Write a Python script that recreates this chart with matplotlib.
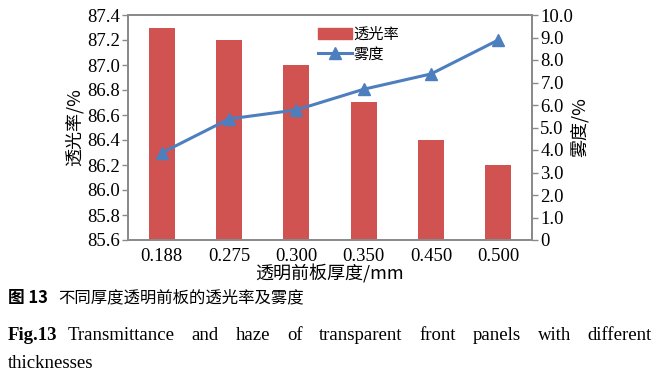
import matplotlib
matplotlib.use("Agg")
import matplotlib.pyplot as plt
from matplotlib.lines import Line2D
from matplotlib.patches import Patch

thickness = ["0.188", "0.275", "0.300", "0.350", "0.450", "0.500"]
transmittance = [87.3, 87.2, 87.0, 86.7, 86.4, 86.2]
haze = [3.87, 5.38, 5.78, 6.70, 7.38, 8.89]

left_ticks = [85.6, 85.8, 86.0, 86.2, 86.4, 86.6, 86.8, 87.0, 87.2, 87.4]
right_ticks = [0, 1, 2, 3, 4, 5, 6, 7, 8, 9, 10]
right_labels = ["0"] + [f"{v:.1f}" for v in right_ticks[1:]]

SERIF = ["Liberation Serif", "DejaVu Serif"]
CJK = ["Noto Sans CJK SC", "Liberation Serif", "DejaVu Sans"]
bar_color = "#d05251"
line_color = "#4d7fbf"
spine_color = "#8a8a8a"

W, H = 666, 387
fig = plt.figure(figsize=(W / 100, H / 100), dpi=100)
ax = fig.add_axes([128 / W, 1 - 240 / H, (532 - 128) / W, (240 - 15) / H])

x = list(range(len(thickness)))
ax.bar(x, [t - 85.6 for t in transmittance], bottom=85.6, width=0.39,
       color=bar_color, zorder=2)
ax.set_ylim(85.6, 87.4)
ax.set_xlim(-0.5, len(thickness) - 0.5)
ax.set_yticks(left_ticks)
ax.set_yticklabels([f"{v:.1f}" for v in left_ticks], fontfamily=SERIF, fontsize=13.5)
ax.set_xticks(x)
ax.set_xticklabels(thickness, fontfamily=SERIF, fontsize=13.5)
ax.tick_params(axis="x", length=0, pad=6)
ax.tick_params(axis="y", length=4, width=1, color=spine_color, pad=2)

ax2 = ax.twinx()
ax2.plot(x, haze, color=line_color, lw=2.2, marker="^", markersize=8, zorder=3)
ax2.set_ylim(0, 10)
ax2.set_yticks(right_ticks)
ax2.set_yticklabels(right_labels, fontfamily=SERIF, fontsize=13.5)
ax2.tick_params(axis="y", length=4, width=1, color=spine_color, pad=2)

for a in (ax, ax2):
    for s in a.spines.values():
        s.set_color(spine_color)
        s.set_linewidth(1.3)

ax.set_ylabel("透光率/%", fontfamily=CJK, fontsize=13, labelpad=2)
ax2.set_ylabel("雾度/%", fontfamily=CJK, fontsize=13, labelpad=-2)
ax.set_xlabel("透明前板厚度/mm", fontfamily=CJK, fontsize=13, labelpad=-1)

handles = [Patch(color=bar_color), Line2D([], [], color=line_color, lw=2.2,
                                          marker="^", markersize=8)]
leg = ax.legend(handles, ["透光率", "雾度"], loc="upper left",
                bbox_to_anchor=(312 / W, 1 - 20 / H), bbox_transform=fig.transFigure,
                frameon=False, prop={"family": CJK, "size": 11},
                handlelength=2.2, handletextpad=0.1, labelspacing=0.15,
                borderaxespad=0)

# caption
fig.text(8 / W, 1 - 298 / H, "图 13", fontfamily=CJK, fontweight="bold",
         fontsize=12, va="center")
fig.text(58 / W, 1 - 298 / H, "不同厚度透明前板的透光率及雾度", fontfamily=CJK,
         fontsize=11.8, va="center")
fig.text(8 / W, 1 - 336 / H, "Fig.13", fontfamily=SERIF, fontweight="bold",
         fontsize=13.5, va="center")

words = "Transmittance and haze of transparent front panels with different".split()
renderer = fig.canvas.get_renderer()
texts = [fig.text(0, 1 - 336 / H, w, fontfamily=SERIF, fontsize=13.5, va="center")
         for w in words]
widths = [t.get_window_extent(renderer).width for t in texts]
x0, x1 = 68, 652
gap = (x1 - x0 - sum(widths)) / (len(words) - 1)
pos = x0
for t, w in zip(texts, widths):
    t.set_x(pos / W)
    pos += w + gap
fig.text(8 / W, 1 - 364 / H, "thicknesses", fontfamily=SERIF, fontsize=13.5,
         va="center")

fig.savefig("out.png", dpi=100)
